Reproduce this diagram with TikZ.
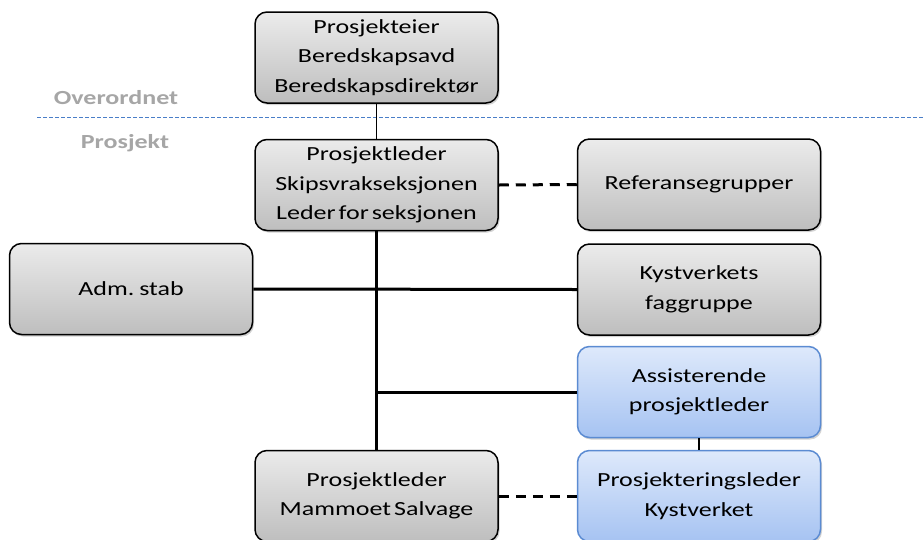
\documentclass[tikz,border=0pt]{standalone}
\usepackage{fontspec}
\setmainfont{Carlito}[FakeStretch=1.3]
\usetikzlibrary{shadows}

\definecolor{graytop}{HTML}{EBEBEB}
\definecolor{graybot}{HTML}{BEBEBE}
\definecolor{bluetop}{HTML}{DEE9FB}
\definecolor{bluebot}{HTML}{A6C3F2}
\definecolor{blueline}{HTML}{5B8BD2}
\definecolor{levelline}{HTML}{4A7EC8}
\definecolor{labelgray}{HTML}{A6A6A6}

\newcommand\orgfont{\fontsize{20}{29.5}\selectfont\spaceskip=3pt\relax}

\begin{document}
\begin{tikzpicture}[x=1pt,y=-1pt,
    orgbox/.style={draw=black,line width=1.5pt,rounded corners=12pt,
        minimum width=243pt,minimum height=91pt,align=center,font=\orgfont,
        top color=graytop,bottom color=graybot,
        drop shadow={opacity=0.35,shadow xshift=1.5pt,shadow yshift=-2pt}},
    bluebox/.style={orgbox,draw=blueline,top color=bluetop,bottom color=bluebot},
    tie/.style={line width=3pt},
    dashtie/.style={line width=3pt,dash pattern=on 10pt off 7pt},
    thinline/.style={line width=1.2pt},
    level/.style={anchor=base,text=labelgray,font=\fontsize{20}{24}\selectfont\bfseries}]

    \useasboundingbox (0,0) rectangle (924,539);

    %LEVELS
    \draw[levelline,line width=1pt,dash pattern=on 4pt off 2pt] (37,117)--(924,117);
    \node[level] (over) at (116,104) {Overordnet};
    \node[level] (proj) at (125,148) {Prosjekt};

    %BOXES
    \node[orgbox] (eier) at (376.5,57.5) {Prosjekteier\\Beredskapsavd\\Beredskapsdirektør};
    \node[orgbox] (leder) at (376.5,185) {Prosjektleder\\Skipsvrakseksjonen\\Leder for seksjonen};
    \node[orgbox] (ref) at (699,184.5) {Referansegrupper};
    \node[orgbox] (adm) at (131,289) {Adm. stab};
    \node[orgbox] (fag) at (699,289.5) {Kystverkets\\faggruppe};
    \node[bluebox] (ass) at (699,392) {Assisterende\\prosjektleder};
    \node[bluebox] (kyst) at (699,496) {Prosjekteringsleder\\Kystverket};
    \node[orgbox] (salv) at (376.5,496) {Prosjektleder\\Mammoet Salvage};

    %CONNECTORS
    \draw[thinline] (eier.south)--(leder.north);
    \draw[dashtie] (leder.east)--(ref.west);
    \draw[tie] (leder.south)--(salv.north);
    \draw[tie] (adm.east)--(fag.west);
    \draw[tie] (leder.south |- ass.west)--(ass.west);
    \draw[thinline] (ass.south)--(kyst.north);
    \draw[dashtie] (salv.east)--(kyst.west);
\end{tikzpicture}
\end{document}
